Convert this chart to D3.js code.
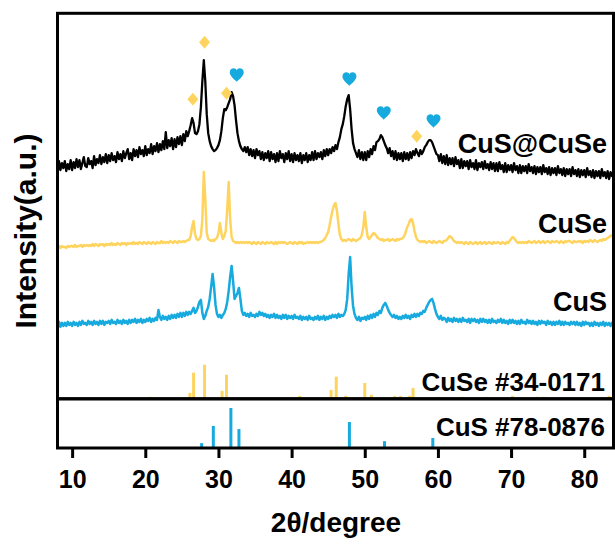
<!DOCTYPE html>
<html>
<head>
<meta charset="utf-8">
<script src="https://cdn.jsdelivr.net/npm/d3@7/dist/d3.min.js"></script>
<style>
  html, body { margin: 0; padding: 0; background: #fff; }
  svg { display: block; }
  text { font-family: "Liberation Sans", Arial, Helvetica, sans-serif; font-weight: bold; fill: #000; }
</style>
</head>
<body>
<svg id="chart" width="615" height="545"></svg>
<script>
// XRD patterns sampled every 0.2° from 8° to 84° (2θ), intensities in a.u. with stacking offsets
const angleStart = 8;
const angleStep = 0.2;

const cusAtCuse = [
  226,238,229,236,231, 238,228,235,230,239, 229,237,231,240,232, 239,230,236,242,233,
  232,241,235,238,231, 243,234,240,236,244, 235,242,237,245,236, 244,238,246,239,243,
  237,247,240,245,238, 248,241,246,250,240, 246,239,250,243,249, 242,252,245,249,243,
  253,244,250,246,255, 245,253,248,256,247, 255,249,258,250,267, 251,259,253,261,250,
  260,252,262,255,263, 254,265,258,268,263, 268,274,281,276,266, 265,268,275,292,318,
  339,318,285,266,258, 253,250,248,249,251, 254,259,268,281,290, 289,292,296,300,307,
  303,294,279,266,258, 253,250,248,252,247, 252,244,250,243,249, 241,250,244,248,240,
  247,239,246,241,248, 238,247,240,245,237, 246,238,248,241,245, 237,246,240,248,238,
  245,237,246,239,244, 238,246,236,244,239, 246,237,244,239,247, 239,248,240,246,242,
  247,240,249,243,250, 244,250,246,252,248, 254,250,257,262,270, 275,283,293,300,304,
  290,270,256,250,246, 242,249,240,247,239, 247,239,248,242,250, 245,253,249,257,258,
  260,264,262,258,254, 251,246,251,243,248, 240,248,239,246,240, 246,238,247,240,246,
  239,247,241,248,244, 250,246,243,249,245, 248,252,254,257,259, 259,257,253,249,245,
  244,238,245,236,243, 235,244,234,241,235, 241,233,242,235,239, 231,240,231,238,233,
  238,230,239,232,236, 230,239,229,236,232, 237,230,238,231,235, 229,237,230,236,228,
  236,228,237,230,234, 227,236,227,234,229, 234,227,236,229,233, 226,234,226,233,228,
  233,226,235,228,232, 226,233,225,232,227, 232,225,234,227,231, 225,232,224,231,226,
  231,224,233,226,230, 224,231,223,230,225, 230,223,232,225,229, 223,230,222,229,224,
  229,222,231,224,228, 222,229,221,228,223, 228,221,230,223,227, 221,228,220,227,223,
  226
];

const cuse = [
  152,153,151,153,152, 152,151,153,152,153, 153,152,154,152,153, 153,154,152,154,153,
  154,153,154,153,155, 153,155,154,153,155, 154,155,153,155,154, 155,154,156,154,155,
  154,156,155,154,156, 155,156,154,156,155, 156,155,157,155,156, 155,157,156,155,157,
  156,155,157,156,155, 157,156,155,157,156, 156,158,156,157,156, 157,156,158,157,156,
  158,157,156,158,157, 157,158,157,158,159, 159,163,172,178,165, 160,159,160,163,180,
  227,200,166,160,159, 158,159,158,160,161, 166,176,166,160,163, 168,190,217,180,162,
  158,157,156,157,156, 157,156,157,156,157, 156,157,156,155,157, 156,155,157,156,155,
  157,156,155,157,156, 156,157,156,155,157, 155,157,156,157,156, 157,156,155,156,157,
  156,155,157,156,155, 157,156,157,155,156, 156,157,156,157,156, 157,156,157,156,157,
  157,158,159,161,164, 167,174,182,189,194, 196,188,175,164,160, 158,159,158,159,160,
  159,158,160,159,158, 159,160,161,164,172, 187,172,162,160,162, 164,166,165,163,161,
  160,159,160,158,159, 159,160,158,159,160, 159,158,160,159,160, 160,161,163,167,172,
  175,179,180,176,168, 162,159,158,157,158, 157,158,156,157,158, 157,156,158,157,156,
  157,158,157,156,158, 158,159,161,163,162, 160,158,157,156,157, 156,157,156,155,157,
  156,155,157,156,155, 156,157,155,156,157, 155,156,157,155,156, 157,156,155,157,156,
  156,157,156,155,157, 156,155,157,156,158, 160,162,161,159,157, 156,157,156,157,156,
  157,156,158,157,156, 157,158,156,157,158, 156,157,158,156,157, 158,157,156,158,157,
  157,158,157,156,158, 157,156,158,157,158, 158,157,156,158,157, 157,158,157,158,156,
  158,157,158,157,159, 158,157,159,158,157, 158,159,158,160,159, 160,161,162,163,164,
  164
];

const cus = [
  74,77,72,76,73, 76,73,77,74,76, 73,77,74,76,73, 77,74,78,75,76,
  74,78,75,77,74, 78,75,77,74,78, 75,78,74,77,76, 78,75,79,76,77,
  75,79,76,78,75, 79,76,78,75,79, 76,79,77,80,76, 79,77,80,76,79,
  77,80,78,81,77, 80,78,81,79,89, 82,79,83,80,82, 79,83,80,84,81,
  84,81,85,82,86, 82,86,83,87,84, 87,85,88,91,86, 88,92,97,99,86,
  80,83,88,92,100, 112,125,112,94,85, 82,84,81,84,86, 90,97,108,122,133,
  118,100,103,106,111, 100,88,84,86,83, 85,82,86,83,84, 82,85,83,87,84,
  86,83,85,82,84, 81,84,82,85,81, 84,81,83,80,84, 81,84,80,83,81,
  83,80,84,81,82, 80,83,79,82,80, 82,79,83,80,81, 79,82,80,83,79,
  82,80,83,79,82, 80,83,81,84,82, 84,81,85,82,84, 83,85,89,100,125,
  142,112,93,85,81, 79,82,78,81,80, 82,79,83,80,84, 81,85,82,86,84,
  88,86,91,94,96, 93,89,86,84,82, 84,81,83,80,82, 80,83,81,84,81,
  83,80,84,82,85, 82,85,83,86,85, 88,87,91,94,97, 99,100,96,90,85,
  82,80,83,79,81, 80,77,81,78,80, 77,81,78,80,77, 80,77,81,78,79,
  77,80,76,80,78, 80,77,79,76,80, 77,80,77,79,76, 79,76,80,77,78,
  76,79,77,80,76, 79,76,78,75,79, 76,79,76,78,75, 78,75,79,76,77,
  75,79,76,78,75, 78,75,77,74,78, 75,78,76,77,74, 78,75,77,74,77,
  74,77,75,78,74, 77,74,77,75,76, 74,77,75,77,74, 77,74,76,73,77,
  74,77,75,76,73, 76,73,77,74,76, 73,76,74,77,73, 76,74,76,73,76,
  75
];

// Standard reference cards: peak positions (2θ) and relative intensities (%)
const cuseCardAngles = [20.6, 26.1, 26.6, 28.1, 30.5, 31.1, 41.1, 45.4, 46.1, 47.4, 50.0, 50.9,
                        54.1, 54.9, 56.1, 56.6, 60.0, 63.3, 66.6, 70.2, 73.6, 74.5, 83.4];
const cuseCardIntensities = [3, 15, 76, 100, 21, 70, 6, 24, 64, 6, 45, 9,
                             6, 6, 6, 30, 3, 3, 3, 6, 3, 3, 6];
const cusCardAngles = [27.7, 29.3, 31.7, 32.8, 47.9, 52.7, 59.3];
const cusCardIntensities = [10, 54, 100, 46, 64, 15, 23];

// Phase markers above the composite pattern
const cuseMarkAngles = [26.5, 28.1, 31.1, 57.1];
const cuseMarkHeights = [300, 357, 306, 263];
const cusMarkAngles = [32.5, 47.9, 52.6, 59.4];
const cusMarkHeights = [324, 320, 286, 278];

const xTicks = [10, 20, 30, 40, 50, 60, 70, 80];
const seriesNames = ["CuS@CuSe", "CuSe", "CuS"];
const cardNames = ["CuSe #34-0171", "CuS #78-0876"];

const yellow = "#FFD45E";
const blue = "#16AADF";

const svg = d3.select("#chart");

const plotLeft = 57.5, plotRight = 613.5, plotTop = 13.3, plotMid = 398.8, plotBottom = 448;

const x = d3.scaleLinear().domain([8, 84]).range([plotLeft, plotRight]);
const y = d3.scaleLinear().domain([0, 386]).range([plotMid, plotTop]);
const yCuseCard = d3.scaleLinear().domain([0, 100]).range([plotMid - 1, plotMid - 34]);
const yCusCard = d3.scaleLinear().domain([0, 100]).range([plotBottom - 1, plotBottom - 40]);

const angleAt = i => angleStart + i * angleStep;

svg.append("defs").append("clipPath").attr("id", "upper")
  .append("rect").attr("x", plotLeft).attr("y", plotTop)
  .attr("width", plotRight - plotLeft).attr("height", plotMid - plotTop);

const line = d3.line().x((d, i) => x(angleAt(i))).y(d => y(d));

const traces = svg.append("g").attr("clip-path", "url(#upper)");
traces.append("path").datum(cus)
  .attr("d", line).attr("fill", "none").attr("stroke", blue).attr("stroke-width", 2.5).attr("stroke-linejoin", "round");
traces.append("path").datum(cuse)
  .attr("d", line).attr("fill", "none").attr("stroke", yellow).attr("stroke-width", 2.5).attr("stroke-linejoin", "round");
traces.append("path").datum(cusAtCuse)
  .attr("d", line).attr("fill", "none").attr("stroke", "#000").attr("stroke-width", 2.3).attr("stroke-linejoin", "round");

// Reference card sticks
svg.append("g").selectAll("line").data(cuseCardAngles).join("line")
  .attr("x1", d => x(d)).attr("x2", d => x(d))
  .attr("y1", yCuseCard(0)).attr("y2", (d, i) => yCuseCard(cuseCardIntensities[i]))
  .attr("stroke", yellow).attr("stroke-width", 3);
svg.append("g").selectAll("line").data(cusCardAngles).join("line")
  .attr("x1", d => x(d)).attr("x2", d => x(d))
  .attr("y1", yCusCard(0)).attr("y2", (d, i) => yCusCard(cusCardIntensities[i]))
  .attr("stroke", blue).attr("stroke-width", 3);

// Phase markers
const diamond = "M0,-6.5L5.5,0L0,6.5L-5.5,0Z";
const heart = "M0,6.5C-2.5,4 -7,0.5 -7,-2.8C-7,-5.6 -5,-7 -3,-7C-1.5,-7 -0.4,-6.2 0,-5C0.4,-6.2 1.5,-7 3,-7C5,-7 7,-5.6 7,-2.8C7,0.5 2.5,4 0,6.5Z";
svg.append("g").selectAll("path").data(cuseMarkAngles).join("path")
  .attr("d", diamond).attr("fill", yellow)
  .attr("transform", (d, i) => `translate(${x(d)},${y(cuseMarkHeights[i])})`);
svg.append("g").selectAll("path").data(cusMarkAngles).join("path")
  .attr("d", heart).attr("fill", blue)
  .attr("transform", (d, i) => `translate(${x(d)},${y(cusMarkHeights[i])})`);

// Series and card labels
const sampleLabelY = [153, 233, 311];
svg.append("g").selectAll("text").data(seriesNames).join("text")
  .attr("x", 607).attr("y", (d, i) => sampleLabelY[i])
  .attr("text-anchor", "end").attr("font-size", 27).text(d => d);
const cardLabelY = [391, 436];
svg.append("g").selectAll("text").data(cardNames).join("text")
  .attr("x", 605).attr("y", (d, i) => cardLabelY[i])
  .attr("text-anchor", "end").attr("font-size", 26).text(d => d);

// Frames
const frame = svg.append("g").attr("fill", "none").attr("stroke", "#000").attr("stroke-width", 3);
frame.append("rect").attr("x", plotLeft).attr("y", plotTop)
  .attr("width", plotRight - plotLeft).attr("height", plotMid - plotTop);
frame.append("rect").attr("x", plotLeft).attr("y", plotMid)
  .attr("width", plotRight - plotLeft).attr("height", plotBottom - plotMid);

// Bottom axis
const axis = svg.append("g").attr("transform", `translate(0,${plotBottom})`)
  .call(d3.axisBottom(x).tickValues(xTicks).tickSize(10).tickSizeOuter(0).tickFormat(d3.format("d")));
axis.select(".domain").remove();
axis.selectAll(".tick line").attr("stroke", "#000").attr("stroke-width", 3);
axis.selectAll(".tick text").attr("y", 40).attr("dy", 0)
  .attr("font-size", 25).attr("font-family", null);

svg.append("text").attr("x", 336).attr("y", 532).attr("text-anchor", "middle")
  .attr("font-size", 28).text("2θ/degree");
svg.append("text").attr("transform", "translate(36,231) rotate(-90)").attr("text-anchor", "middle")
  .attr("font-size", 30).text("Intensity(a.u.)");
</script>
</body>
</html>
